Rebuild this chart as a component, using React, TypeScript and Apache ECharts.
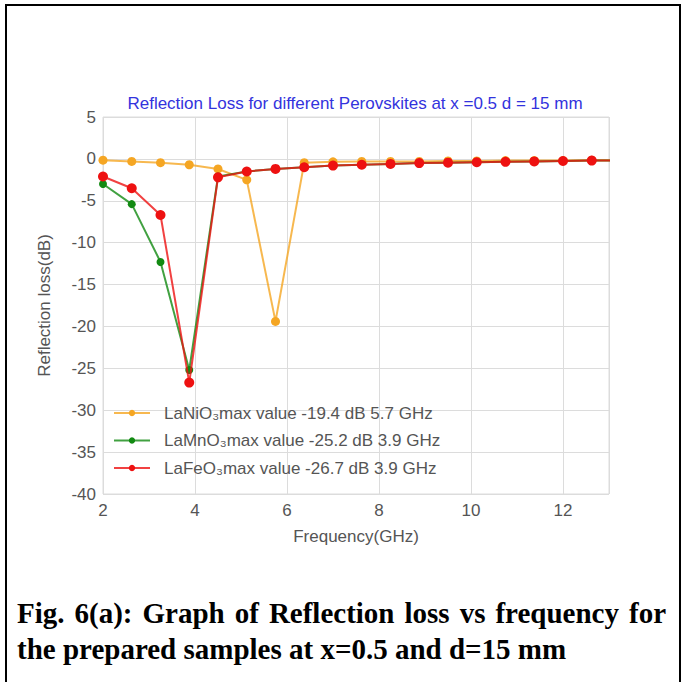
import React, { useEffect, useRef } from "react";
import * as echarts from "echarts";

const frequencies = [2, 2.625, 3.25, 3.875, 4.5, 5.125, 5.75, 6.375, 7, 7.625, 8.25, 8.875, 9.5, 10.125, 10.75, 11.375, 12, 12.625, 13.25];
const laNiO3 = [-0.15, -0.3, -0.45, -0.7, -1.2, -2.5, -19.4, -0.45, -0.35, -0.3, -0.3, -0.3, -0.25, -0.25, -0.2, -0.2, -0.2, -0.15, -0.15];
const laMnO3 = [-3.0, -5.4, -12.3, -25.2, -2.1, -1.5, -1.2, -1.0, -0.8, -0.7, -0.6, -0.5, -0.45, -0.4, -0.35, -0.3, -0.25, -0.2, -0.2];
const laFeO3 = [-2.1, -3.5, -6.7, -26.7, -2.2, -1.5, -1.2, -1.0, -0.8, -0.7, -0.6, -0.5, -0.45, -0.4, -0.35, -0.3, -0.25, -0.2, -0.2];
const seriesNames = [
  "LaNiO\u2083max value -19.4 dB 5.7 GHz",
  "LaMnO\u2083max value -25.2 dB 3.9 GHz",
  "LaFeO\u2083max value -26.7 dB 3.9 GHz",
];
const seriesColors = ["#f5a623", "#128a12", "#ee1111"];
const titleText = "Reflection Loss for different Perovskites at x =0.5 d = 15 mm";
const xName = "Frequency(GHz)";
const yName = "Reflection loss(dB)";
const caption1 = "Fig. 6(a): Graph of Reflection loss vs frequency for";
const caption2 = "the prepared samples at x=0.5 and d=15 mm";

const FONT = "'Liberation Sans', Arial, sans-serif";
const SERIF = "'Liberation Serif', 'Times New Roman', serif";
const CAP_FONT = `bold 29px ${SERIF}`;

function zip(xs: number[], ys: number[]) {
  return xs.map((x, i) => [x, ys[i]]);
}

function captionWords(text: string, x0: number, x1: number, y: number, justify: boolean) {
  const canvas = document.createElement("canvas");
  const ctx = canvas.getContext("2d")!;
  ctx.font = CAP_FONT;
  const words = text.split(" ");
  const widths = words.map((w) => ctx.measureText(w).width);
  const total = widths.reduce((a, b) => a + b, 0);
  const space = ctx.measureText(" ").width;
  const gap = justify ? Math.max(space, (x1 - x0 - total) / (words.length - 1)) : space;
  const els: any[] = [];
  let x = x0;
  words.forEach((w, i) => {
    els.push({
      type: "text",
      x,
      y,
      style: {
        text: w,
        font: CAP_FONT,
        fill: "#000",
        textAlign: "left",
        textVerticalAlign: "middle",
      },
    });
    x += widths[i] + gap;
  });
  return els;
}

export default function App() {
  const ref = useRef<HTMLDivElement>(null);
  useEffect(() => {
    const chart = echarts.init(ref.current!, null, { renderer: "svg" });
    const dataSets = [laNiO3, laMnO3, laFeO3];
    const symbolSizes = [9, 8, 10];
    const option: any = {
      animation: false,
      backgroundColor: "#fff",
      title: {
        text: titleText,
        left: 355,
        textAlign: "center",
        top: 95,
        padding: 0,
        textStyle: { color: "#3333dd", fontSize: 17, fontWeight: "normal", fontFamily: FONT },
      },
      grid: {
        left: 103,
        right: 73,
        top: 117,
        bottom: 188,
        show: true,
        borderColor: "#dcdcdc",
        borderWidth: 1,
      },
      legend: {
        orient: "vertical",
        left: 113,
        top: 403,
        padding: 0,
        itemWidth: 36,
        itemHeight: 8,
        itemGap: 7.5,
        textStyle: { color: "#555", fontSize: 17, lineHeight: 20, fontFamily: FONT, padding: [0, 0, 0, 9] },
        data: seriesNames,
      },
      xAxis: {
        type: "value",
        min: 2,
        max: 13,
        interval: 2,
        name: xName,
        nameLocation: "middle",
        nameGap: 34,
        nameTextStyle: { color: "#555", fontSize: 17, fontFamily: FONT },
        axisLine: { show: false },
        axisTick: { show: false },
        axisLabel: {
          color: "#555",
          fontSize: 17,
          fontFamily: FONT,
          margin: 8,
          showMaxLabel: false,
          formatter: (v: number) => (v > 12.5 ? "" : String(v)),
        },
        splitLine: { show: true, lineStyle: { color: "#dcdcdc", width: 1 } },
      },
      yAxis: {
        type: "value",
        min: -40,
        max: 5,
        interval: 5,
        name: yName,
        nameLocation: "middle",
        nameGap: 50,
        nameTextStyle: { color: "#555", fontSize: 17, fontFamily: FONT },
        axisLine: { show: false },
        axisTick: { show: false },
        axisLabel: { color: "#555", fontSize: 17, fontFamily: FONT, margin: 7 },
        splitLine: { show: true, lineStyle: { color: "#dcdcdc", width: 1 } },
      },
      series: seriesNames.map((name, i) => ({
        name,
        type: "line",
        data: zip(frequencies, dataSets[i]),
        symbol: "circle",
        symbolSize: symbolSizes[i],
        clip: true,
        color: seriesColors[i],
        itemStyle: { color: seriesColors[i] },
        lineStyle: { color: seriesColors[i], width: 2, opacity: 0.8 },
        z: 2 + i,
      })),
      graphic: [
        { type: "line", shape: { x1: 6, y1: 5, x2: 6, y2: 682 }, style: { stroke: "#000", lineWidth: 2 } },
        { type: "line", shape: { x1: 5, y1: 5, x2: 681, y2: 5 }, style: { stroke: "#000", lineWidth: 2 } },
        { type: "line", shape: { x1: 680, y1: 5, x2: 680, y2: 682 }, style: { stroke: "#000", lineWidth: 2 } },
        ...captionWords(caption1, 17, 666, 613, true),
        ...captionWords(caption2, 17, 600, 649, false),
      ],
    };
    chart.setOption(option);
    return () => chart.dispose();
  }, []);
  return (
    <div
      ref={ref}
      style={{ position: "absolute", left: 0, top: 0, width: 682, height: 682, background: "#fff" }}
    />
  );
}
